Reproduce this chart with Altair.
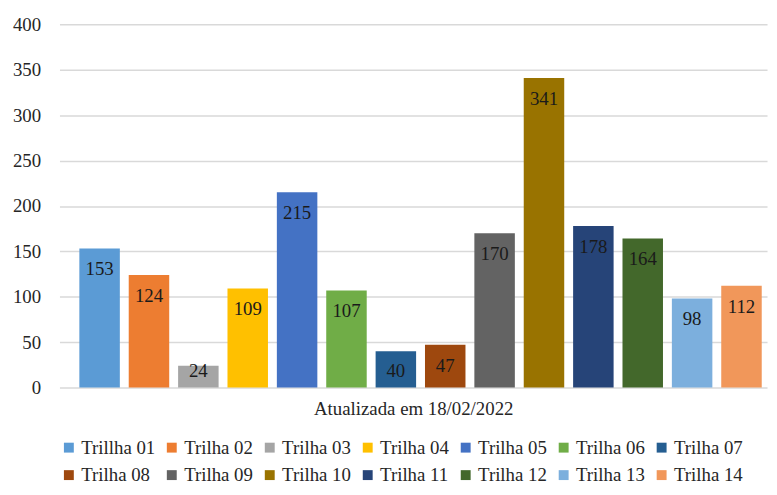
import altair as alt
import pandas as pd

trilhas = ["Trillha 01", "Trilha 02", "Trilha 03", "Trilha 04", "Trilha 05", "Trilha 06", "Trilha 07",
           "Trilha 08", "Trilha 09", "Trilha 10", "Trilha 11", "Trilha 12", "Trilha 13", "Trilha 14"]
visitas = [153, 124, 24, 109, 215, 107, 40, 47, 170, 341, 178, 164, 98, 112]
cores = ["#5B9BD5", "#ED7D31", "#A5A5A5", "#FFC000", "#4472C4", "#70AD47", "#255E91",
         "#9E480E", "#636363", "#997300", "#264478", "#43682B", "#7CAFDD", "#F1975A"]
y_ticks = [0, 50, 100, 150, 200, 250, 300, 350, 400]
x_title = "Atualizada em 18/02/2022"

FONT = "Liberation Serif"
TXT = "#262626"

df = pd.DataFrame({"trilha": trilhas, "visitas": visitas})

y_scale = alt.Scale(domain=[0, 400], nice=False)
x_scale = alt.Scale(paddingInner=0.18, paddingOuter=0.255, align=0.79)

bars = alt.Chart(df).mark_bar().encode(
    x=alt.X("trilha:N", sort=trilhas, scale=x_scale,
            axis=alt.Axis(title=x_title, labels=False, ticks=False, domain=False, grid=False,
                          titlePadding=12)),
    y=alt.Y("visitas:Q", scale=y_scale,
            axis=alt.Axis(title=None, values=y_ticks, domain=False, ticks=False, tickSize=0,
                          labelPadding=19, grid=True, gridColor="#D9D9D9", gridWidth=1.5)),
    color=alt.Color("trilha:N", sort=trilhas,
                    scale=alt.Scale(domain=trilhas, range=cores),
                    legend=alt.Legend(orient="none", legendX=0, legendY=418,
                                      direction="horizontal", columns=7, title=None,
                                      symbolType="square", symbolSize=100, symbolStrokeWidth=0,
                                      labelOffset=3, columnPadding=7, rowPadding=8,
                                      padding=0, labelLimit=200)),
)

labels = alt.Chart(df).transform_calculate(
    pos="max(datum.visitas - 23, 18)"
).mark_text(fontSize=19, color="#1a1a1a", baseline="middle").encode(
    x=alt.X("trilha:N", sort=trilhas),
    y=alt.Y("pos:Q", scale=y_scale),
    text="visitas:Q",
)

chart = alt.layer(bars, labels).properties(
    width=715, height=367,
    autosize=alt.AutoSizeParams(type="none"),
    padding={"top": 14, "left": 52, "right": 2, "bottom": 98},
).configure(font=FONT).configure_view(stroke=None).configure_axis(
    labelFont=FONT, labelFontSize=19, labelColor=TXT,
    titleFont=FONT, titleFontSize=19, titleFontWeight="normal", titleColor=TXT,
).configure_legend(
    labelFont=FONT, labelFontSize=19, labelColor=TXT,
).configure_text(font=FONT)

chart.save("out.html", embed_options={"renderer": "svg", "actions": False})
